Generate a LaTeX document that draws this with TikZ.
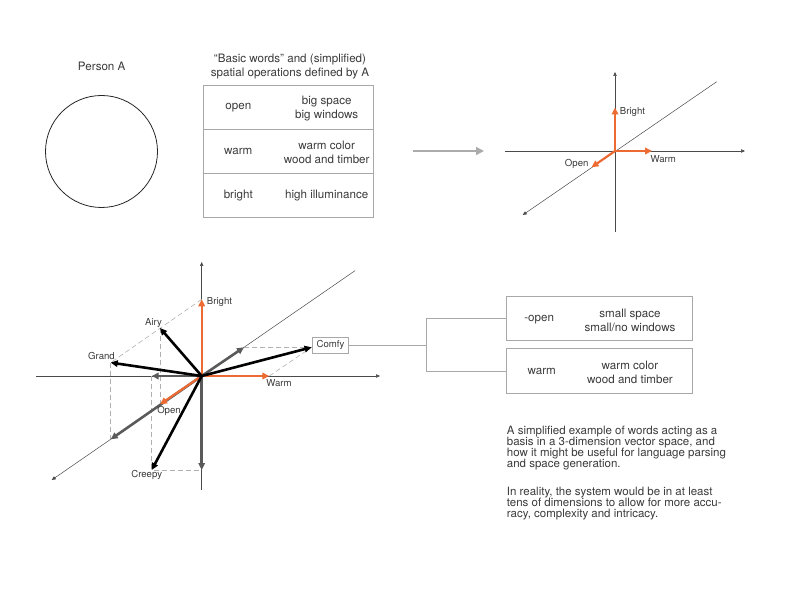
\documentclass[tikz,border=0pt]{standalone}
\usepackage{fontspec}
\setmainfont{TeX Gyre Heros}
\usetikzlibrary{arrows.meta}
\definecolor{accent}{HTML}{EE6A33}
\definecolor{inkgray}{HTML}{3A3A3A}
\definecolor{axisgray}{HTML}{4A4A4A}
\definecolor{midgray}{HTML}{5A5A5A}
\definecolor{dashgray}{HTML}{B0B0B0}
\definecolor{framegray}{HTML}{A8A8A8}
\definecolor{pointergray}{HTML}{ABABAB}

\begin{document}
\begin{tikzpicture}[x=1pt,y=-1pt,
  txt/.style={text=inkgray, font=\fontsize{11.6}{13.8}\selectfont, align=center, inner sep=0pt},
  lbl/.style={text=inkgray, font=\fontsize{9.6}{11}\selectfont, inner sep=0pt},
  axis/.style={draw=axisgray, line width=0.5pt, -{Triangle[length=4pt,width=3.4pt]}},
  basisvec/.style={draw=accent, line width=2.2pt, -{Triangle[length=7pt,width=6.5pt]}},
  flipvec/.style={draw=midgray, line width=2.6pt, -{Triangle[length=7pt,width=6.5pt]}},
  wordvec/.style={draw=black, line width=2.6pt, -{Triangle[length=7pt,width=6.5pt]}},
  guide/.style={draw=dashgray, line width=0.6pt, dash pattern=on 5pt off 3pt},
  cell/.style={draw=framegray, line width=0.6pt, minimum width=170pt, minimum height=44pt, inner sep=0pt},
  wordbox/.style={draw=framegray, line width=0.6pt, minimum width=186pt, inner sep=0pt},
  bracket/.style={draw=framegray, line width=0.6pt}]
\useasboundingbox (0,0) rectangle (792,612);

% person A
\node[txt] (persontitle) at (101.7,66) {Person A};
\node[circle, draw=black!85, line width=0.8pt, minimum size=112pt, inner sep=0pt] (personhead) at (101.5,151.5) {};

% table of basic words
\node[txt] (tabletitle) at (290,66.3) {“Basic words” and (simplified)\\spatial operations defined by A};
\node[cell] (rowopen) at (288,107) {};
\node[cell] (rowwarm) at (288,151) {};
\node[cell] (rowbright) at (288,195) {};
\node[txt] (wordopen) at (238.3,107.5) {open};
\node[txt] (opsopen) at (326.7,108.3) {big space\\big windows};
\node[txt] (wordwarm) at (238.3,151.5) {warm};
\node[txt] (opswarm) at (326.7,152.5) {warm color\\wood and timber};
\node[txt] (wordbright) at (238.3,195.5) {bright};
\node[txt] (opsbright) at (326.7,195.5) {high illuminance};

% arrow between table and small chart
\coordinate (mapfrom) at (413,151);
\coordinate (mapto) at (484,151);
\draw[draw=pointergray, line width=1.6pt, -{Triangle[length=8pt,width=8pt]}] (mapfrom) -- (mapto);

% small chart: the basis
\coordinate (so) at (615,151);
\coordinate (sxleft) at (505,151);
\coordinate (sxright) at (745,151);
\coordinate (sybottom) at (615,232);
\coordinate (sytop) at (615,72);
\coordinate (szfar) at (716.7,81.7);
\coordinate (sznear) at (522.7,215);
\draw[axis] (sxleft) -- (sxright);
\draw[axis] (sybottom) -- (sytop);
\draw[axis] (szfar) -- (sznear);
\coordinate (sbright) at (615,107.5);
\coordinate (swarm) at (652,151);
\coordinate (sopen) at (591.5,167.3);
\draw[basisvec] (so) -- (sbright);
\draw[basisvec] (so) -- (swarm);
\draw[basisvec] (so) -- (sopen);
\node[lbl] (sbrightlabel) at (632.5,112.5) {Bright};
\node[lbl] (swarmlabel) at (663.3,159) {Warm};
\node[lbl] (sopenlabel) at (576.7,163.5) {Open};

% large chart: words as combinations
\coordinate (o) at (201.7,376);
\coordinate (xleft) at (36,376);
\coordinate (xright) at (380,376);
\coordinate (ybottom) at (201.7,490);
\coordinate (ytop) at (201.7,262);
\coordinate (zfar) at (355,270.7);
\coordinate (znear) at (51.7,480);
\draw[axis] (xleft) -- (xright);
\draw[axis] (ybottom) -- (ytop);
\draw[axis] (zfar) -- (znear);

\coordinate (bright) at (201.7,299.3);
\coordinate (warm) at (269.3,376);
\coordinate (open) at (160,404.3);
\coordinate (notopen) at (244,347.3);
\coordinate (notwarm) at (151.7,376);
\coordinate (notbright) at (201.7,470);
\coordinate (bigopen) at (110.7,439.3);
\coordinate (comfy) at (311.6,347.3);
\coordinate (grand) at (110.7,362.6);
\coordinate (airy) at (160,328);
\coordinate (creepy) at (151.7,470);

% construction lines
\draw[guide] (bright) -- (grand);
\draw[guide] (airy) -- (open);
\draw[guide] (grand) -- (bigopen);
\draw[guide] (notwarm) -- (creepy) -- (notbright);
\draw[guide] (notopen) -- (comfy);
\draw[guide] (warm) -- (comfy);

\draw[flipvec] (o) -- (notopen);
\draw[flipvec] (o) -- (notwarm);
\draw[flipvec] (o) -- (notbright);
\draw[flipvec] (o) -- (bigopen);
\draw[basisvec] (o) -- (bright);
\draw[basisvec] (o) -- (warm);
\draw[basisvec] (o) -- (open);
\draw[wordvec] (o) -- (comfy);
\draw[wordvec] (o) -- (grand);
\draw[wordvec] (o) -- (airy);
\draw[wordvec] (o) -- (creepy);

\node[lbl] (brightlabel) at (219.5,302) {Bright};
\node[lbl] (airylabel) at (153.5,323) {Airy};
\node[lbl] (grandlabel) at (101.5,356) {Grand};
\node[lbl] (openlabel) at (169,411) {Open};
\node[lbl] (creepylabel) at (146.7,474.5) {Creepy};
\node[lbl] (warmlabel) at (279,383.5) {Warm};
\node[lbl, draw=framegray, line width=0.6pt, minimum width=35.6pt, minimum height=16pt] (comfybox) at (330.5,345.3) {Comfy};

% comfy = -open + warm
\node[wordbox, minimum height=44pt] (boxopen) at (599.7,318.7) {};
\node[wordbox, minimum height=45pt] (boxwarm) at (599.7,370.8) {};
\coordinate (fork) at (426,345.3);
\draw[bracket] (comfybox.east) -- (fork);
\draw[bracket] (boxopen.west) -| (fork);
\draw[bracket] (boxwarm.west) -| (fork);
\node[txt] (wordnotopen) at (539.2,319.5) {-open};
\node[txt] (opsnotopen) at (630,320.5) {small space\\small/no windows};
\node[txt] (wordwarm2) at (541.7,371) {warm};
\node[txt] (opswarm2) at (630,372.5) {warm color\\wood and timber};

% notes
\node[txt, align=left, anchor=north west, font=\fontsize{11.5}{11.2}\selectfont] (notebasis) at (506.7,425.6)
  {A simplified example of words acting as a\\basis in a 3-dimension vector space, and\\how it might be useful for language parsing\\and space generation.};
\node[txt, align=left, anchor=north west, font=\fontsize{11.5}{11.2}\selectfont] (notereality) at (506.7,486.5)
  {In reality, the system would be in at least\\tens of dimensions to allow for more accu-\\racy, complexity and intricacy.};
\end{tikzpicture}
\end{document}
